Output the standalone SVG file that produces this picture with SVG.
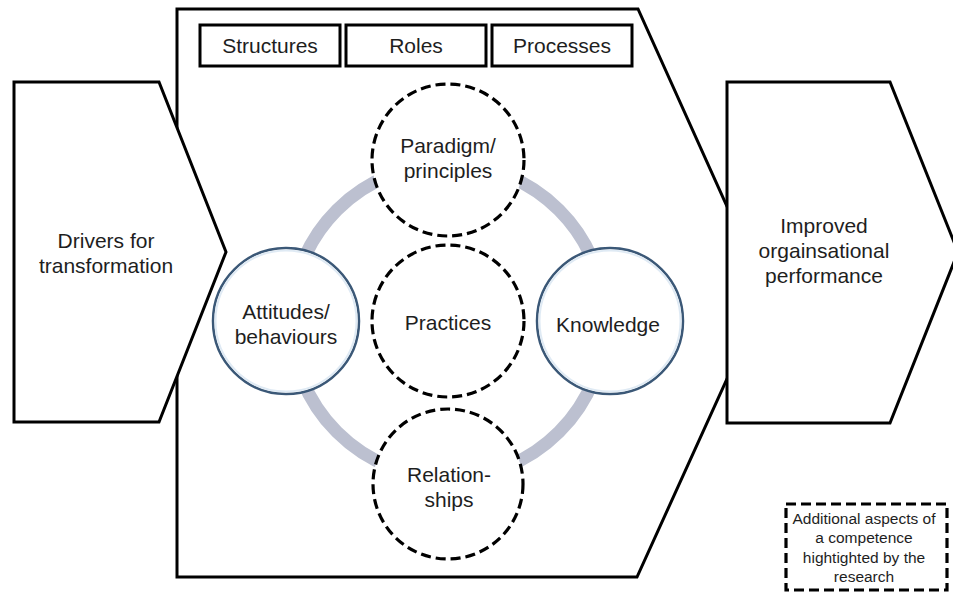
<svg xmlns="http://www.w3.org/2000/svg" width="953" height="594" viewBox="0 0 953 594">
<style>
text{font-family:"Liberation Sans",Arial,Helvetica,sans-serif;fill:#1e1e1e;text-anchor:middle}
.big{font-size:21px}
.small{font-size:15.5px}
.shape{fill:#fff;stroke:#000;stroke-width:3;stroke-linejoin:miter}
.box{fill:#fff;stroke:#000;stroke-width:3}
.dash{fill:#fff;stroke:#000;stroke-width:3.2;stroke-dasharray:10 5}
.solid{fill:#fff;stroke:#3b5877;stroke-width:2.5}
.glow{fill:none;stroke:#dfeaf4;stroke-width:2}
.ring{fill:none;stroke:#bcc0d0;stroke-width:13}
</style>
<rect width="953" height="594" fill="#fff"/>
<g id="competence-frame">
<path class="shape" d="M177,9 L638,9 L766,293 L637,577 L177,577 Z"/>
</g>
<g id="drivers">
<path class="shape" d="M14,82 L159,82 L226,252 L159,422 L14,422 Z"/>
<text class="big" x="106" y="248">Drivers for</text>
<text class="big" x="106" y="273">transformation</text>
</g>
<g id="performance">
<path class="shape" d="M727,82 L890,82 L958,252 L890,423 L727,423 Z"/>
<text class="big" x="824" y="233">Improved</text>
<text class="big" x="824" y="258">orgainsational</text>
<text class="big" x="824" y="283">performance</text>
</g>
<g id="structures">
<rect class="box" x="200" y="25" width="140" height="41"/>
<text class="big" x="270" y="53">Structures</text>
</g>
<g id="roles">
<rect class="box" x="346" y="25" width="140" height="41"/>
<text class="big" x="416" y="53">Roles</text>
</g>
<g id="processes">
<rect class="box" x="492" y="25" width="140" height="41"/>
<text class="big" x="562" y="53">Processes</text>
</g>
<g id="connectors">
<circle class="ring" cx="448" cy="321" r="157"/>
</g>
<g id="paradigm">
<circle class="dash" cx="448" cy="160" r="76"/>
<text class="big" x="448" y="153">Paradigm/</text>
<text class="big" x="448" y="178">principles</text>
</g>
<g id="practices">
<circle class="dash" cx="448" cy="321" r="76"/>
<text class="big" x="448" y="330">Practices</text>
</g>
<g id="relationships">
<circle class="dash" cx="448" cy="484" r="75"/>
<text class="big" x="449" y="482">Relation-</text>
<text class="big" x="449" y="507">ships</text>
</g>
<g id="attitudes">
<circle class="solid" cx="286" cy="321" r="73"/>
<circle class="glow" cx="286" cy="321" r="70.5"/>
<text class="big" x="286" y="319">Attitudes/</text>
<text class="big" x="286" y="344">behaviours</text>
</g>
<g id="knowledge">
<circle class="solid" cx="610" cy="321" r="73"/>
<circle class="glow" cx="610" cy="321" r="70.5"/>
<text class="big" x="608" y="332">Knowledge</text>
</g>
<g id="legend">
<rect class="dash" x="786" y="504" width="161" height="86" stroke-dasharray="8 4"/>
<text class="small" x="864" y="524">Additional aspects of</text>
<text class="small" x="864" y="543">a competence</text>
<text class="small" x="864" y="563">hightighted by the</text>
<text class="small" x="864" y="582">research</text>
</g>
</svg>
